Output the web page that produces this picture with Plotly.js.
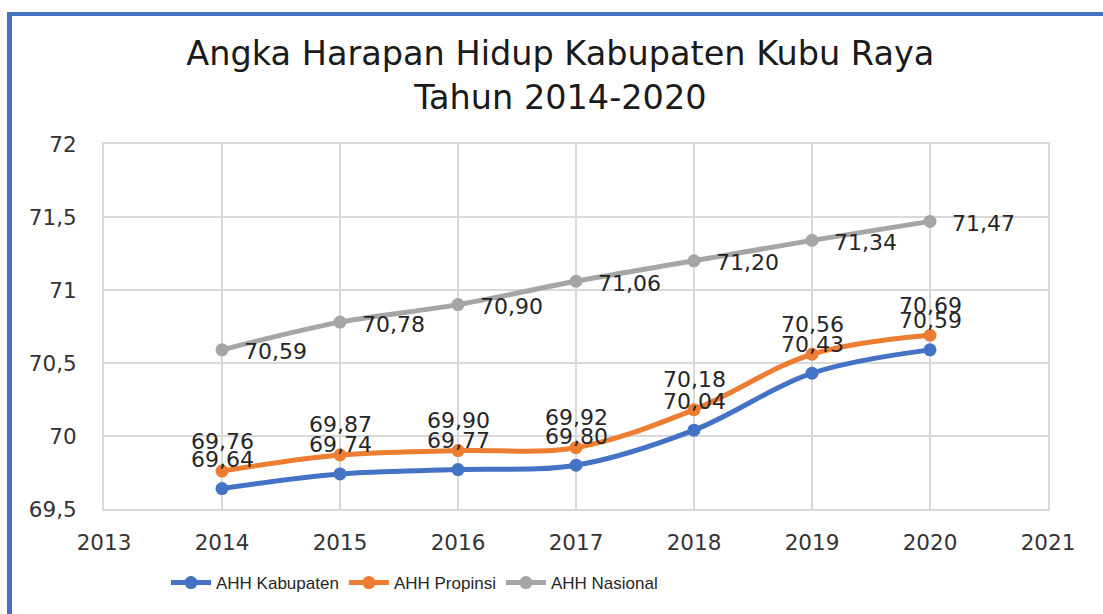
<!DOCTYPE html>
<html>
<head>
<meta charset="utf-8">
<script src="https://cdn.plot.ly/plotly-3.0.1.min.js"></script>
<style>
  html, body { margin: 0; padding: 0; background: #fff; overflow: hidden; }
  #chart { position: absolute; left: 0; top: 0; width: 1103px; height: 614px; }
  #frame { position: absolute; left: 7px; top: 12px; width: 3000px; height: 3000px;
           border-left: 5px solid #4472C4; border-top: 4px solid #4472C4; pointer-events: none; }
</style>
</head>
<body>
<div id="chart"></div>
<div id="frame"></div>
<script>
const years = [2014, 2015, 2016, 2017, 2018, 2019, 2020];
const kabupaten = [69.64, 69.74, 69.77, 69.80, 70.04, 70.43, 70.59];
const propinsi = [69.76, 69.87, 69.90, 69.92, 70.18, 70.56, 70.69];
const nasional = [70.59, 70.78, 70.90, 71.06, 71.20, 71.34, 71.47];
const seriesNames = ["AHH Kabupaten", "AHH Propinsi", "AHH Nasional"];
const colors = ["#4472C4", "#ED7D31", "#A5A5A5"];
const yTicks = [69.5, 70, 70.5, 71, 71.5, 72];
const xTicks = [2013, 2014, 2015, 2016, 2017, 2018, 2019, 2020, 2021];

const fmt = v => v.toFixed(2).replace('.', ',');
const lblFont = { family: "DejaVu Sans, Verdana, sans-serif", size: 22, color: "#262626" };

function mk(vals, i) {
  return {
    x: years, y: vals, name: seriesNames[i], type: "scatter", mode: "lines+markers",
    line: { color: colors[i], width: 5, shape: "spline", smoothing: 1 },
    marker: { color: colors[i], size: 13 },
    hoverinfo: "x+y"
  };
}
const data = [mk(kabupaten, 0), mk(propinsi, 1), mk(nasional, 2)];

const annotations = [];
years.forEach((yr, k) => {
  annotations.push({ x: yr, y: kabupaten[k], text: fmt(kabupaten[k]), showarrow: false,
    xanchor: "center", yanchor: "middle", yshift: 29, font: lblFont });
  annotations.push({ x: yr, y: propinsi[k], text: fmt(propinsi[k]), showarrow: false,
    xanchor: "center", yanchor: "middle", yshift: 30, font: lblFont });
  annotations.push({ x: yr, y: nasional[k], text: fmt(nasional[k]), showarrow: false,
    xanchor: "left", yanchor: "middle", xshift: 20, yshift: -2, font: lblFont });
});

const layout = {
  width: 1103, height: 614,
  paper_bgcolor: "#fff", plot_bgcolor: "#fff",
  separators: ",.",
  margin: { l: 104, r: 55, t: 144, b: 105 },
  title: {
    text: "Angka Harapan Hidup Kabupaten Kubu Raya<br>Tahun 2014-2020",
    font: { family: "DejaVu Sans, Verdana, sans-serif", size: 33.5, color: "#1a1a1a" },
    xref: "container", yref: "container", x: 0.508, y: 1 - 65 / 614,
    xanchor: "center", yanchor: "middle"
  },
  xaxis: {
    range: [2013, 2021], tickvals: xTicks, ticktext: xTicks.map(String),
    showgrid: true, gridcolor: "#d9d9d9", gridwidth: 2,
    showline: true, linecolor: "#d9d9d9", linewidth: 2, mirror: true,
    zeroline: false, ticks: "", ticklabelstandoff: 13,
    tickfont: { family: "DejaVu Sans, Verdana, sans-serif", size: 21.5, color: "#333" }
  },
  yaxis: {
    range: [69.5, 72], tickvals: yTicks,
    showgrid: true, gridcolor: "#d9d9d9", gridwidth: 2,
    showline: true, linecolor: "#d9d9d9", linewidth: 2, mirror: true,
    zeroline: false, ticks: "", ticklabelstandoff: 21,
    tickfont: { family: "DejaVu Sans, Verdana, sans-serif", size: 21.5, color: "#333" }
  },
  legend: {
    orientation: "h", x: (166 - 104) / 944, xanchor: "left",
    y: (509 - 583) / 365, yanchor: "middle",
    font: { family: "Liberation Sans Narrow, Liberation Sans, Arial, sans-serif", size: 17, color: "#262626" },
    itemwidth: 40
  },
  annotations: annotations,
  showlegend: true
};

Plotly.newPlot("chart", data, layout, { displayModeBar: false, staticPlot: true });
</script>
</body>
</html>
